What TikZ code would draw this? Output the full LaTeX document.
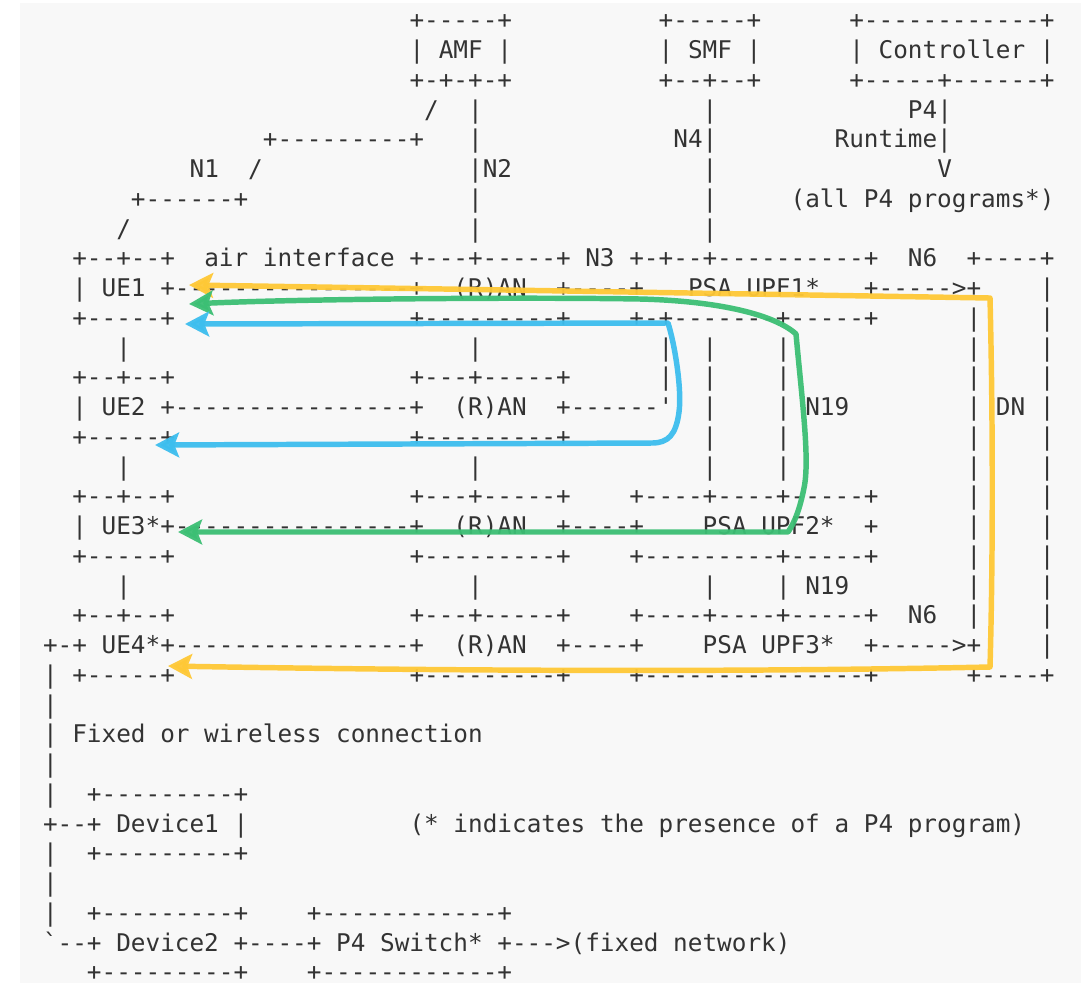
\documentclass[tikz,border=0pt]{standalone}
\usepackage{fontspec}
\setmonofont{DejaVu Sans Mono}
\usetikzlibrary{arrows.meta}

\definecolor{panel}{HTML}{F8F8F8}
\definecolor{ink}{HTML}{333333}
\definecolor{flowyellow}{HTML}{FFC836}
\definecolor{flowgreen}{HTML}{3CBF74}
\definecolor{flowblue}{HTML}{3DBEEE}

% character grid: column width and line pitch (in px units)
\newcommand\colw{14.66}
\newcommand\rowh{29.75}
% \asc{col}{row}{text}: one run of monospaced text, named r<row>c<col>
\newcommand\asc[3]{\node[ascii] (r#2c#1) at ({43+#1*\colw},{28.8+#2*\rowh}) {#3};}

\begin{document}
\begin{tikzpicture}[x=0.75pt,y=-0.75pt,
  ascii/.style={anchor=base west,inner sep=0pt,outer sep=0pt,text=ink,text depth=0pt,
    font=\ttfamily\fontsize{18.26pt}{22pt}\selectfont\frenchspacing},
  tip/.style={Stealth[length=18pt,width=18.5pt,inset=3.5pt]},
  flow/.style={line width=4.1pt,line join=round,line cap=round,opacity=0.95,
    {Stealth[length=18pt,width=18.5pt,inset=3.5pt]}-{Stealth[length=18pt,width=18.5pt,inset=3.5pt]}}]

\fill[white] (0,0) rectangle (1081,983);
\fill[panel] (20,3) rectangle (1081,983);
\useasboundingbox (0,0) rectangle (1081,983);

% control plane
\asc{25}{0}{+-----+}\asc{42}{0}{+-----+}\asc{55}{0}{+------------+}
\asc{25}{1}{| AMF |}\asc{42}{1}{| SMF |}\asc{55}{1}{| Controller |}
\asc{25}{2}{+-+-+-+}\asc{42}{2}{+--+--+}\asc{55}{2}{+-----+------+}
\asc{26}{3}{/}\asc{29}{3}{|}\asc{45}{3}{|}\asc{59}{3}{P4|}
\asc{15}{4}{+---------+}\asc{29}{4}{|}\asc{43}{4}{N4|}\asc{54}{4}{Runtime|}
\asc{10}{5}{N1}\asc{14}{5}{/}\asc{29}{5}{|N2}\asc{45}{5}{|}\asc{61}{5}{V}
\asc{6}{6}{+------+}\asc{29}{6}{|}\asc{45}{6}{|}\asc{51}{6}{(all P4 programs*)}
\asc{5}{7}{/}\asc{29}{7}{|}\asc{45}{7}{|}

% UE1 / UPF1 row
\asc{2}{8}{+--+--+}\asc{11}{8}{air interface +---+-----+ N3 +-+--+----------+}
\asc{59}{8}{N6}\asc{63}{8}{+----+}
\asc{2}{9}{| UE1 +----------------+}\asc{28}{9}{(R)AN}\asc{35}{9}{+----+}
\asc{44}{9}{PSA UPF1*}\asc{56}{9}{+----->+}\asc{68}{9}{|}
\asc{2}{10}{+-----+}\asc{25}{10}{+---------+}\asc{40}{10}{+-+-------+-----+}
\asc{63}{10}{|}\asc{68}{10}{|}
\asc{5}{11}{|}\asc{29}{11}{|}\asc{42}{11}{|}\asc{45}{11}{|}\asc{50}{11}{|}
\asc{63}{11}{|}\asc{68}{11}{|}

% UE2 row
\asc{2}{12}{+--+--+}\asc{25}{12}{+---+-----+}\asc{42}{12}{|}\asc{45}{12}{|}
\asc{50}{12}{|}\asc{63}{12}{|}\asc{68}{12}{|}
\asc{2}{13}{| UE2 +----------------+}\asc{28}{13}{(R)AN}\asc{35}{13}{+------'}
\asc{45}{13}{|}\asc{50}{13}{| N19}\asc{63}{13}{| DN}\asc{68}{13}{|}
\asc{2}{14}{+-----+}\asc{25}{14}{+---------+}\asc{45}{14}{|}\asc{50}{14}{|}
\asc{63}{14}{|}\asc{68}{14}{|}
\asc{5}{15}{|}\asc{29}{15}{|}\asc{45}{15}{|}\asc{50}{15}{|}\asc{63}{15}{|}\asc{68}{15}{|}

% UE3 / UPF2 row
\asc{2}{16}{+--+--+}\asc{25}{16}{+---+-----+}\asc{40}{16}{+----+----+-----+}
\asc{63}{16}{|}\asc{68}{16}{|}
\asc{2}{17}{| UE3*+----------------+}\asc{28}{17}{(R)AN}\asc{35}{17}{+----+}
\asc{45}{17}{PSA UPF2*}\asc{56}{17}{+}\asc{63}{17}{|}\asc{68}{17}{|}
\asc{2}{18}{+-----+}\asc{25}{18}{+---------+}\asc{40}{18}{+---------+-----+}
\asc{63}{18}{|}\asc{68}{18}{|}
\asc{5}{19}{|}\asc{29}{19}{|}\asc{45}{19}{|}\asc{50}{19}{| N19}\asc{63}{19}{|}\asc{68}{19}{|}

% UE4 / UPF3 row
\asc{2}{20}{+--+--+}\asc{25}{20}{+---+-----+}\asc{40}{20}{+----+----+-----+}
\asc{59}{20}{N6}\asc{63}{20}{|}\asc{68}{20}{|}
\asc{0}{21}{+-+ UE4*+----------------+}\asc{28}{21}{(R)AN}\asc{35}{21}{+----+}
\asc{45}{21}{PSA UPF3*}\asc{56}{21}{+----->+}\asc{68}{21}{|}
\asc{0}{22}{|}\asc{2}{22}{+-----+}\asc{25}{22}{+---------+}\asc{40}{22}{+---------------+}
\asc{63}{22}{+----+}

% fixed access part
\asc{0}{23}{|}
\asc{0}{24}{| Fixed or wireless connection}
\asc{0}{25}{|}
\asc{0}{26}{|}\asc{3}{26}{+---------+}
\asc{0}{27}{+--+ Device1 |}\asc{25}{27}{(* indicates the presence of a P4 program)}
\asc{0}{28}{|}\asc{3}{28}{+---------+}
\asc{0}{29}{|}
\asc{0}{30}{|}\asc{3}{30}{+---------+}\asc{18}{30}{+------------+}
\asc{0}{31}{`--+ Device2 +----+ P4 Switch* +--->(fixed network)}
\asc{3}{32}{+---------+}\asc{18}{32}{+------------+}

% highlighted flows
\coordinate (yUE1) at (189,285);
\coordinate (yUE4) at (168,666);
\coordinate (gUE1) at (189,304);
\coordinate (gUE3) at (178,532);
\coordinate (bUE1) at (185,324);
\coordinate (bUE2) at (155,445);

\draw[flow,flowyellow] (yUE1) .. controls (450,289) and (750,294) .. (990,298)
  .. controls (993,420) and (993,560) .. (990,667)
  .. controls (700,673) and (400,670) .. (yUE4);

\draw[flow,flowgreen] (gUE1) .. controls (300,299) and (520,297) .. (640,299)
  .. controls (720,301) and (775,315) .. (796,334)
  .. controls (802,400) and (810,460) .. (804,488)
  .. controls (800,508) and (795,522) .. (788,532) -- (gUE3);

\draw[flow,flowblue] (bUE1) -- (668,323)
  .. controls (675,345) and (682,390) .. (679,412)
  .. controls (676,435) and (668,443) .. (652,443) -- (bUE2);

\end{tikzpicture}
\end{document}
